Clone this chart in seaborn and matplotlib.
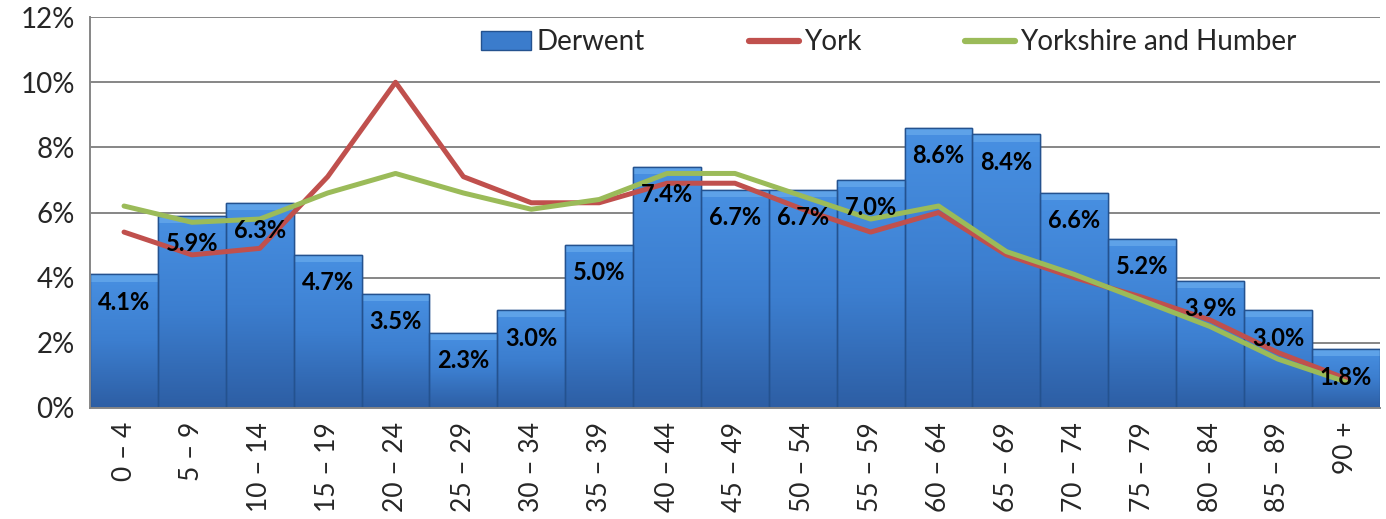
import matplotlib
matplotlib.use("Agg")
import matplotlib.pyplot as plt
import numpy as np
import seaborn as sns
from matplotlib.patches import Patch
from matplotlib.lines import Line2D
from matplotlib.ticker import FixedLocator, PercentFormatter

# Data (percent of population by age band)
age_bands = ["0 – 4", "5 – 9", "10 – 14", "15 – 19", "20 – 24", "25 – 29",
             "30 – 34", "35 – 39", "40 – 44", "45 – 49", "50 – 54", "55 – 59",
             "60 – 64", "65 – 69", "70 – 74", "75 – 79", "80 – 84", "85 – 89",
             "90 +"]
derwent = [4.1, 5.9, 6.3, 4.7, 3.5, 2.3, 3.0, 5.0, 7.4, 6.7, 6.7, 7.0,
           8.6, 8.4, 6.6, 5.2, 3.9, 3.0, 1.8]
york = [5.4, 4.7, 4.9, 7.1, 10.0, 7.1, 6.3, 6.3, 6.9, 6.9, 6.1, 5.4,
        6.0, 4.7, 4.0, 3.4, 2.7, 1.7, 0.9]
yorkshire = [6.2, 5.7, 5.8, 6.6, 7.2, 6.6, 6.1, 6.4, 7.2, 7.2, 6.5, 5.8,
             6.2, 4.8, 4.1, 3.3, 2.5, 1.5, 0.8]

sns.set_style("white")
plt.rcParams["font.family"] = ["Lato", "DejaVu Sans"]

fig = plt.figure(figsize=(13.86, 5.19), dpi=100)
ax = fig.add_axes([0.065, 0.214, 0.9305, 0.753])

bar_color = "#3b7ccc"
red = "#c0504d"
green = "#9bbb59"

sns.barplot(x=age_bands, y=derwent, width=1.0, color=bar_color,
            edgecolor="#24528f", linewidth=1.0, saturation=1, ax=ax, zorder=2)

# vertical gradient on each bar, clipped to the bar shape
grad = np.linspace(0, 1, 256).reshape(-1, 1)
cmap = matplotlib.colors.LinearSegmentedColormap.from_list(
    "bar", ["#2d5ea4", "#3c7ecf", "#4890e2"])
for bar in ax.patches:
    x0, y0 = bar.get_x(), bar.get_y()
    w, h = bar.get_width(), bar.get_height()
    im = ax.imshow(grad, cmap=cmap, aspect="auto", origin="lower",
                   extent=[x0, x0 + w, y0, y0 + h], zorder=2.1)
    im.set_clip_path(bar)
    # lighter bevel on top
    ax.add_patch(plt.Rectangle((x0, y0 + h - 0.22), w, 0.22,
                               facecolor="#5ea2e8", edgecolor="none",
                               zorder=2.2, clip_path=bar))
    ax.add_patch(plt.Rectangle((x0, y0), w, h, facecolor="none",
                               edgecolor="#24528f", linewidth=1.0, zorder=2.3))

pos = np.arange(len(age_bands))
sns.lineplot(x=pos, y=york, color=red, linewidth=3.6, sort=False, ax=ax,
             zorder=3)
sns.lineplot(x=pos, y=yorkshire, color=green, linewidth=3.6, sort=False,
             ax=ax, zorder=3.1)

# value labels inside the top of each bar
for i, v in enumerate(derwent):
    ax.annotate(f"{v:.1f}%", (i, v), xytext=(0, -20),
                textcoords="offset points", ha="center", va="center",
                fontsize=17, fontweight="bold", color="black", zorder=5)

ax.set_xlim(-0.5, len(age_bands) - 0.5)
ax.set_ylim(0, 12)
ax.yaxis.set_major_locator(FixedLocator(np.arange(0, 13, 2)))
ax.yaxis.set_major_formatter(PercentFormatter(decimals=0))
ax.grid(axis="y", color="#868686", linewidth=1.4, zorder=0)
ax.set_axisbelow(True)

ax.set_xticks(pos)
ax.set_xticklabels(age_bands, rotation=90, fontsize=19)
ax.tick_params(axis="x", which="major", length=0, pad=10)
ax.set_xticks(np.arange(-0.5, len(age_bands), 1.0), minor=True)
ax.tick_params(axis="x", which="minor", length=9, width=1.2, color="#868686",
               direction="out")
ax.tick_params(axis="y", labelsize=20, length=7, width=1.2, color="#868686",
               direction="out", pad=4)

for side in ["top", "right"]:
    ax.spines[side].set_visible(False)
for side in ["left", "bottom"]:
    ax.spines[side].set_color("#868686")
    ax.spines[side].set_linewidth(1.4)

handles = [
    Patch(facecolor=bar_color, edgecolor="#24528f", label="Derwent"),
    Line2D([0], [0], color=red, linewidth=4.5, label="York"),
    Line2D([0], [0], color=green, linewidth=4.5, label="Yorkshire and Humber"),
]
ax.legend(handles=handles, ncol=3, frameon=False, fontsize=20,
          loc="upper left", bbox_to_anchor=(0.284, 1.033), columnspacing=3.75,
          handlelength=1.8, handletextpad=0.18)

fig.savefig("out.png", dpi=100)
